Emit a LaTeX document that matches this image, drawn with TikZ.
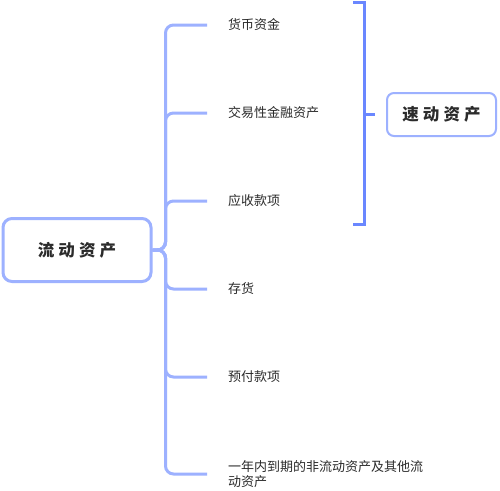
\documentclass[tikz,border=0pt]{standalone}
\usepackage{fontspec}
\newfontfamily\cjk{Noto Sans CJK SC}
\newfontfamily\cjkwide[LetterSpace=25]{Noto Sans CJK SC}
\definecolor{branchblue}{HTML}{9DB1FF}
\definecolor{bracketblue}{HTML}{6A87FF}
\definecolor{textgray}{HTML}{2B2B2B}
\tikzset{
	rootbox/.style={draw=branchblue, line width=3pt, rounded corners=9pt, fill=white, text=textgray,
		minimum width=148pt, minimum height=63pt, inner sep=0pt, font=\cjkwide\fontsize{16.5}{18}\selectfont\bfseries},
	quickbox/.style={draw=branchblue, line width=2pt, rounded corners=7pt, fill=white, text=textgray,
		minimum width=109pt, minimum height=43pt, inner sep=0pt, font=\cjkwide\fontsize{16.5}{18}\selectfont\bfseries},
	leaf/.style={anchor=west, inner sep=0pt, text=textgray, font=\cjk\fontsize{13}{15.5}\selectfont},
	branch/.style={draw=branchblue, line width=3pt, rounded corners=8pt},
	bracket/.style={draw=bracketblue, line width=3pt}
}
\begin{document}
\begin{tikzpicture}[x=1pt, y=-1pt]
		%%%%% START %%%%%
		\useasboundingbox[fill=white] (0, 0) rectangle (500, 490);
		
		\node[rootbox] (root) at (77, 250) {流动资产};
		
		\node[leaf] (cash) at (228, 25) {货币资金};
		\node[leaf] (trade) at (228, 113) {交易性金融资产};
		\node[leaf] (recv) at (228, 201) {应收款项};
		\node[leaf] (stock) at (228, 289) {存货};
		\node[leaf] (prepay) at (228, 377) {预付款项};
		\node[leaf, align=left] (other) at (228, 474) {一年内到期的非流动资产及其他流\\动资产};
		
		\foreach \leafname in {cash, trade, recv, stock, prepay, other}
		\draw[branch] (root.east) -- ++(13, 0) |- ([xshift=-21pt]\leafname.west);
		
		\node[quickbox] (quick) at (441.5, 114.5) {速动资产};
		
		\coordinate (brtop) at (353, 2.5);
		\coordinate (brbot) at (353, 224);
		\draw[bracket] (brtop) -- (364, 2.5) -- (364, 224) -- (brbot);
		\draw[bracket] (364, 114.5) -- ([xshift=-11pt]quick.west);
		
		%%%%% END %%%%%
	\end{tikzpicture}
\end{document}
